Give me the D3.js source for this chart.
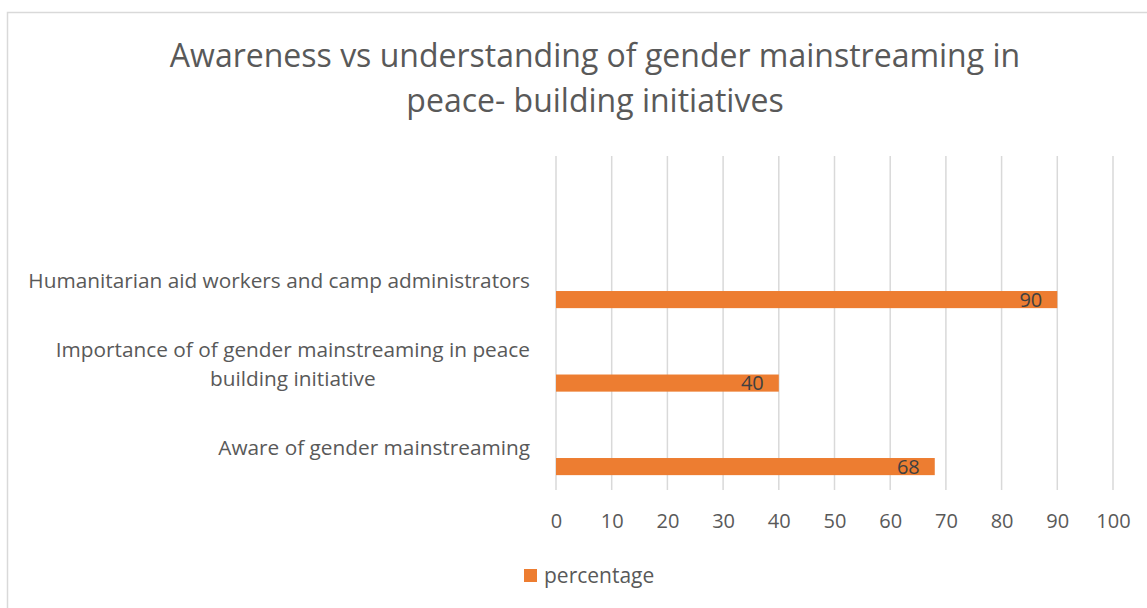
<!DOCTYPE html>
<html>
<head>
<meta charset="utf-8">
<script src="https://cdn.jsdelivr.net/npm/d3@7"></script>
<style>
  body { margin: 0; background: #fff; }
  text { font-family: "Open Sans", sans-serif; fill: #595959; }
</style>
</head>
<body>
<div id="wrapper"></div>
<script>
// data, bottom-up order as in the sheet; the blank row is an empty category
const categories = ["", "Humanitarian aid workers and camp administrators",
  "Importance of of gender mainstreaming in peace building initiative",
  "Aware of gender mainstreaming"]
const percentage = [null, 90, 40, 68]
const xTicks = [0, 10, 20, 30, 40, 50, 60, 70, 80, 90, 100]
const titleLines = ["Awareness vs understanding of gender mainstreaming in", "peace- building initiatives"]
const seriesName = "percentage"

const data = categories.map((c, i) => ({ cat: c, value: percentage[i] }))

let dimensions = {
  width: 1147,
  height: 608,
  margin: { top: 156, right: 34, bottom: 118, left: 556 },
}
dimensions.boundedWidth = dimensions.width - dimensions.margin.left - dimensions.margin.right
dimensions.boundedHeight = dimensions.height - dimensions.margin.top - dimensions.margin.bottom

const svg = d3.select("#wrapper").append("svg")
  .attr("width", dimensions.width)
  .attr("height", dimensions.height)

// chart frame
svg.append("rect")
  .attr("x", 7.5).attr("y", 12.5)
  .attr("width", 1160).attr("height", 620)
  .attr("fill", "none").attr("stroke", "#d9d9d9").attr("stroke-width", 1.5)

svg.append("g").selectAll("text")
  .data(titleLines)
  .join("text")
  .attr("x", 595)
  .attr("y", (d, i) => 67 + i * 45)
  .attr("text-anchor", "middle")
  .style("font-size", "32px")
  .text(d => d)

const bounds = svg.append("g")
  .attr("transform", `translate(${dimensions.margin.left}, ${dimensions.margin.top})`)

const x = d3.scaleLinear().domain([0, 100]).range([0, dimensions.boundedWidth])
const y = d3.scaleBand().domain(categories).range([0, dimensions.boundedHeight])

// vertical gridlines
bounds.append("g").selectAll("line")
  .data(xTicks)
  .join("line")
  .attr("x1", d => x(d)).attr("x2", d => x(d))
  .attr("y1", 0).attr("y2", dimensions.boundedHeight)
  .attr("stroke", "#d9d9d9").attr("stroke-width", 1.5)

// bars sit in the lower part of each band
const barOffset = 0.617, barSize = 0.205
const rows = data.filter(d => d.value != null)

bounds.append("g").selectAll("rect")
  .data(rows)
  .join("rect")
  .attr("x", x(0))
  .attr("y", d => y(d.cat) + y.bandwidth() * barOffset)
  .attr("width", d => x(d.value) - x(0))
  .attr("height", y.bandwidth() * barSize)
  .attr("fill", "#ed7d31")

bounds.append("g").selectAll("text")
  .data(rows)
  .join("text")
  .attr("x", d => x(d.value) - 15)
  .attr("y", d => y(d.cat) + y.bandwidth() * (barOffset + barSize / 2) + 7)
  .attr("text-anchor", "end")
  .style("font-size", "20px")
  .style("fill", "#404040")
  .text(d => d.value)

// x axis labels
const xAxis = d3.axisBottom(x).tickValues(xTicks).tickSize(0).tickPadding(24)
const xAxisG = bounds.append("g")
  .attr("transform", `translate(0, ${dimensions.boundedHeight})`)
  .call(xAxis)
xAxisG.select(".domain").remove()
xAxisG.selectAll("text").style("font-size", "20px").style("font-family", "Open Sans").attr("fill", "#595959")

// category labels, wrapped like the original
const wrapWidth = 510
const catLabels = bounds.append("g").selectAll("text")
  .data(rows)
  .join("text")
  .attr("text-anchor", "middle")
  .style("font-size", "20.8px")

catLabels.each(function (d) {
  const t = d3.select(this)
  const words = d.cat.split(" ")
  const lines = []
  let line = []
  const probe = t.append("tspan")
  words.forEach(w => {
    line.push(w)
    probe.text(line.join(" "))
    if (probe.node().getComputedTextLength() > wrapWidth && line.length > 1) {
      line.pop()
      lines.push(line.join(" "))
      line = [w]
    }
  })
  lines.push(line.join(" "))
  probe.remove()
  const lh = 29
  const cy = y(d.cat) + y.bandwidth() / 2
  // right-align block, center lines within it
  const widths = lines.map(l => { const s = t.append("tspan").text(l); const w = s.node().getComputedTextLength(); s.remove(); return w })
  const blockW = d3.max(widths)
  const cx = -26 - blockW / 2
  lines.forEach((l, i) => {
    t.append("tspan")
      .attr("x", cx)
      .attr("y", cy + (i - (lines.length - 1) / 2) * lh + 7)
      .text(l)
  })
})

// legend
const legend = svg.append("g").attr("transform", "translate(524, 569)")
legend.append("rect").attr("width", 13).attr("height", 13).attr("fill", "#ed7d31")
legend.append("text").attr("x", 20).attr("y", 14).style("font-size", "21px").text(seriesName)
</script>
</body>
</html>
